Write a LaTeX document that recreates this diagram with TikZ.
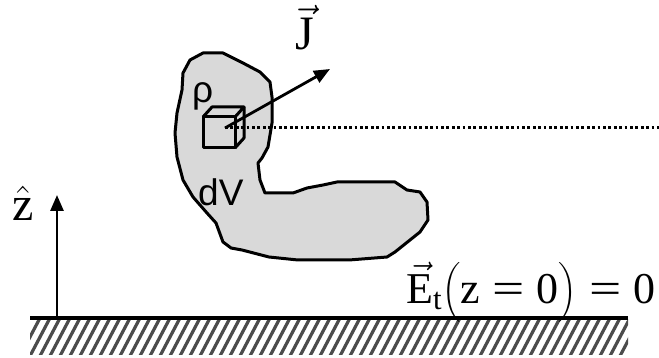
\RequirePackage{fix-cm}
\documentclass[tikz,border=0pt]{standalone}
\usepackage{amsmath}
\usepackage{graphicx}
\usepackage{fontspec}
\setmainfont{Liberation Serif}
\newfontfamily\arial{Liberation Sans}
\usetikzlibrary{arrows.meta}
\newcommand{\eqs}{\mathrel{\text{\scalebox{1.3}[1]{=}}}}
\tikzset{
  outline/.style={line width=3pt, line join=round},
  vecarrow/.style={line width=2.8pt, -{Triangle[length=16pt,width=13pt]}},
  hatch/.style={line width=3.2pt, black!70},
  serif/.style={font=\fontsize{48}{54}\selectfont, inner sep=0pt},
  eqfont/.style={font=\fontsize{44}{52}\selectfont, inner sep=0pt},
  sans/.style={font=\arial\fontsize{37}{42}\selectfont, inner sep=0pt},
}
\begin{document}
\begin{tikzpicture}[x=1pt,y=-1pt]
\useasboundingbox (0,0) rectangle (659,358);
% hatched ground
\begin{scope}
  \clip (30,319) rectangle (628,354);
  \foreach \i in {0,...,64} {
    \draw[hatch] (20+\i*10,356) -- (40+\i*10,318);
  }
\end{scope}
\coordinate (gl) at (30,318);
\coordinate (gr) at (628,318);
\draw[line width=3.2pt] (gl) -- (gr);
% z axis
\coordinate (zb) at (57,318);
\coordinate (zt) at (57,195);
\draw[vecarrow] (zb) -- (zt);
\node[serif, anchor=base west] (zhat) at (12,221) {$\hat{\text{z}}$};
% blob
\draw[outline, fill=black!15] (190,60) -- (203,53) -- (223,53) -- (243,63) -- (260,72) -- (270,82) -- (272,97) -- (272,123) -- (268,147) -- (262,158) -- (258,163) -- (260,180) -- (265,193) -- (293,193) -- (307,188) -- (323,185) -- (337,182) -- (395,182) -- (407,190) -- (420,192) -- (427,202) -- (428,220) -- (420,232) -- (395,252) -- (387,257) -- (349,260) -- (298,260) -- (269,257) -- (242,250) -- (231,248) -- (223,242) -- (216,223) -- (207,213) -- (193,197) -- (183,180) -- (177,157) -- (175,133) -- (177,113) -- (182,90) -- (183,73) -- cycle;
% cube
\draw[outline] (203,117) rectangle (235,148);
\draw[outline] (203,117) -- (212,107) -- (244,107) -- (235,117);
\draw[outline] (244,107) -- (244,138) -- (235,148);
% dotted line and J arrow
\coordinate (c) at (225,128);
\coordinate (dr) at (659,128);
\coordinate (jt) at (330,69);
\draw[line width=3pt, dash pattern=on 2.8pt off 2.6pt] (c) -- (dr);
\draw[vecarrow] (c) -- (jt);
% labels
\node[serif, anchor=base] (J) at (305,50) {$\vec{\text{J}}$};
\node[sans, anchor=base west] (rho) at (192,103) {ρ};
\node[sans, anchor=base west] (dV) at (198,206) {dV};
\node[eqfont, anchor=base east] (E) at (656,303) {$\vec{\text{E}}_{\text{t}}\bigl(\text{z}\eqs\text{0}\bigr)\eqs\text{0}$};
\end{tikzpicture}
\end{document}
